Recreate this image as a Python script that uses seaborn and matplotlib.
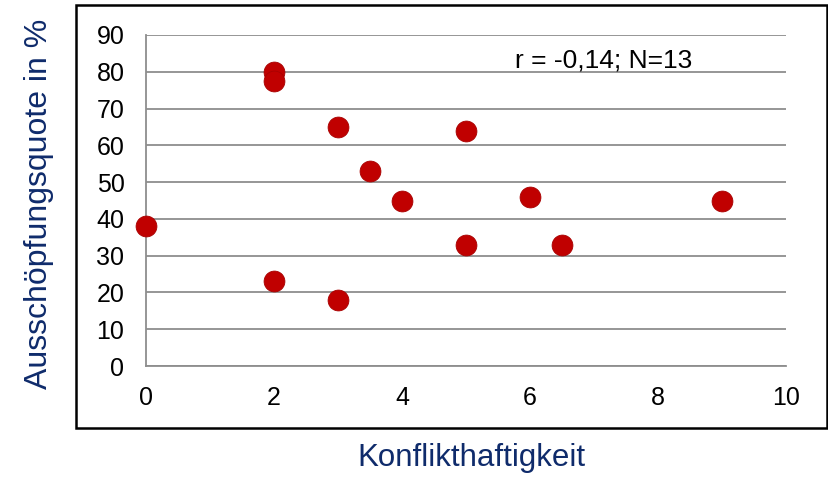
import matplotlib
matplotlib.use("Agg")
import matplotlib.pyplot as plt
import seaborn as sns
import pandas as pd
from matplotlib.patches import Rectangle

# Data
konflikt = [0, 2, 2, 2, 3, 3, 3.5, 4, 5, 5, 6, 6.5, 9]
quote = [38, 80, 77.5, 23, 65, 18, 53, 45, 64, 33, 46, 33, 45]
x_ticks = [0, 2, 4, 6, 8, 10]
y_ticks = [0, 10, 20, 30, 40, 50, 60, 70, 80, 90]
x_label = "Konflikthaftigkeit"
y_label = "Ausschöpfungsquote in %"
annotation = "r = -0,14; N=13"

df = pd.DataFrame({"Konflikthaftigkeit": konflikt, "Quote": quote})

sns.set_theme(style="white")
plt.rcParams['font.family'] = ['Liberation Sans', 'DejaVu Sans']

navy = "#0F2B6B"
red = "#C00000"
grid_c = "#8E8E8E"

fig = plt.figure(figsize=(8.29, 4.78), dpi=100)
ax = fig.add_axes([146/829, 1 - 366/478, 640/829, 331/478])

sns.scatterplot(data=df, x="Konflikthaftigkeit", y="Quote", ax=ax,
                s=225, color=red, edgecolor="#A80000", linewidth=0.6,
                zorder=3, clip_on=False)

ax.set_xlim(0, 10)
ax.set_ylim(0, 90)
ax.set_xticks(x_ticks)
ax.set_yticks(y_ticks)
ax.set_xlabel("")
ax.set_ylabel("")
ax.yaxis.grid(True, color=grid_c, linewidth=1.3)
ax.xaxis.grid(False)
ax.set_axisbelow(True)
for side in ["top", "right"]:
    ax.spines[side].set_visible(False)
for side in ["left", "bottom"]:
    ax.spines[side].set_color(grid_c)
    ax.spines[side].set_linewidth(1.3)
ax.tick_params(axis="both", which="major", direction="out", length=6.5,
               width=1.1, color=grid_c, labelsize=18, labelcolor="black",
               pad=8)
ax.tick_params(axis="y", pad=9)

ax.text(5.77, 83, annotation, fontsize=19, color="black",
        ha="left", va="center")

fig.text(471.7/829, 1 - 466/478, x_label, fontsize=22.5, color=navy,
         ha="center", va="baseline")
fig.text(39/829, 1 - 204/478, y_label, fontsize=23, color=navy,
         ha="center", va="center", rotation=90)

fig.patches.append(Rectangle((76/829, 1 - 428/478), 751/829, 423/478,
                             transform=fig.transFigure, fill=False,
                             edgecolor="black", linewidth=1.8))

fig.savefig("out.png", dpi=100, facecolor="white")
